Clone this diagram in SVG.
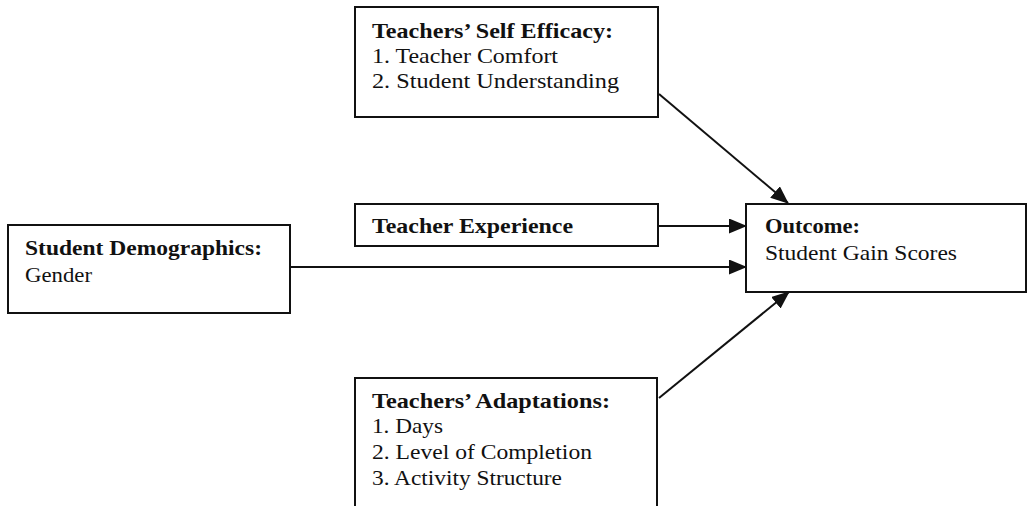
<svg xmlns="http://www.w3.org/2000/svg" width="1028" height="506" viewBox="0 0 1028 506">
  <defs>
    <marker id="arrow" markerUnits="userSpaceOnUse" markerWidth="18" markerHeight="15" refX="17" refY="7.5" orient="auto">
      <path d="M0,0 L18,7.5 L0,15 z" fill="#111"/>
    </marker>
    <style>
      .box { fill: #fff; stroke: #111; stroke-width: 2; }
      .t { font-family: "Liberation Serif", "Times New Roman", serif; font-size: 21px; fill: #111; }
      .b { font-weight: bold; }
      .edge { stroke: #111; stroke-width: 2; fill: none; marker-end: url(#arrow); }
    </style>
  </defs>
  <rect width="1028" height="506" fill="#fff"/>

  <g id="connectors">
    <line class="edge" x1="659" y1="94" x2="788" y2="203"/>
    <line class="edge" x1="658" y1="226" x2="746" y2="226"/>
    <line class="edge" x1="290" y1="267" x2="746" y2="267"/>
    <line class="edge" x1="659" y1="398" x2="789" y2="292"/>
  </g>

  <g id="self-efficacy">
    <rect class="box" x="355" y="7" width="303" height="110"/>
    <text class="t b" x="372" y="38" textLength="241" lengthAdjust="spacingAndGlyphs">Teachers’ Self Efficacy:</text>
    <text class="t" x="372" y="63" textLength="186" lengthAdjust="spacingAndGlyphs">1. Teacher Comfort</text>
    <text class="t" x="372" y="88" textLength="247" lengthAdjust="spacingAndGlyphs">2. Student Understanding</text>
  </g>

  <g id="experience">
    <rect class="box" x="355" y="204" width="303" height="42"/>
    <text class="t b" x="372" y="233" textLength="201" lengthAdjust="spacingAndGlyphs">Teacher Experience</text>
  </g>

  <g id="demographics">
    <rect class="box" x="8" y="225" width="282" height="88"/>
    <text class="t b" x="25" y="255" textLength="237" lengthAdjust="spacingAndGlyphs">Student Demographics:</text>
    <text class="t" x="25" y="282" textLength="67" lengthAdjust="spacingAndGlyphs">Gender</text>
  </g>

  <g id="outcome">
    <rect class="box" x="746" y="204" width="280" height="88"/>
    <text class="t b" x="765" y="233" textLength="95" lengthAdjust="spacingAndGlyphs">Outcome:</text>
    <text class="t" x="765" y="260" textLength="192" lengthAdjust="spacingAndGlyphs">Student Gain Scores</text>
  </g>

  <g id="adaptations">
    <rect class="box" x="355" y="378" width="302" height="140"/>
    <text class="t b" x="372" y="408" textLength="238" lengthAdjust="spacingAndGlyphs">Teachers’ Adaptations:</text>
    <text class="t" x="372" y="433" textLength="71" lengthAdjust="spacingAndGlyphs">1. Days</text>
    <text class="t" x="372" y="459" textLength="220" lengthAdjust="spacingAndGlyphs">2. Level of Completion</text>
    <text class="t" x="372" y="485" textLength="190" lengthAdjust="spacingAndGlyphs">3. Activity Structure</text>
  </g>
</svg>
